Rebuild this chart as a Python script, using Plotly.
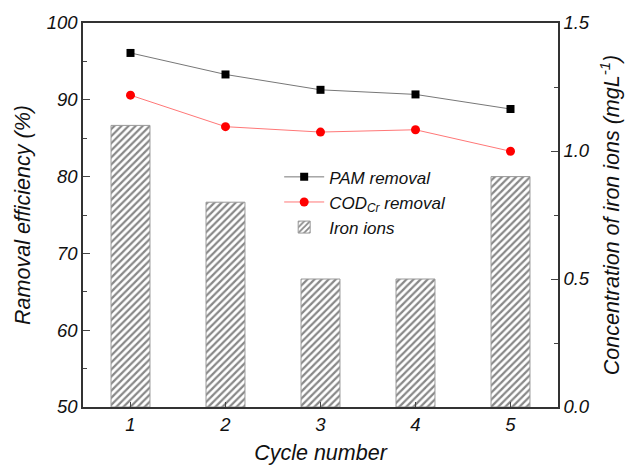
import plotly.graph_objects as go

cycles = [1, 2, 3, 4, 5]
pam_removal = [96.1, 93.3, 91.3, 90.7, 88.8]
cod_removal = [90.6, 86.5, 85.8, 86.1, 83.3]
iron_ions = [1.1, 0.8, 0.5, 0.5, 0.9]

font_family = "Liberation Sans, Arial, sans-serif"

fig = go.Figure()

fig.add_trace(go.Scatter(
    x=cycles, y=pam_removal, name="<i>PAM removal</i>", mode="lines+markers",
    line=dict(color="#777777", width=1),
    marker=dict(symbol="square", color="black", size=8),
))
fig.add_trace(go.Scatter(
    x=cycles, y=cod_removal, name="<i>COD<sub>Cr</sub> removal</i>", mode="lines+markers",
    line=dict(color="#ff7777", width=1),
    marker=dict(symbol="circle", color="#ff0000", size=9),
))
fig.add_trace(go.Bar(
    x=cycles, y=iron_ions, yaxis="y2", name="<i>Iron ions</i>",
    width=0.41,
    marker=dict(color="white", line=dict(color="#999999", width=1),
                pattern=dict(shape="/", fgcolor="#111111", bgcolor="white", size=5, solidity=0.45)),
))

fig.update_layout(
    width=633, height=465,
    margin=dict(l=83, r=75, t=23, b=58),
    plot_bgcolor="white", paper_bgcolor="white",
    font=dict(family=font_family, color="#111111"),
    showlegend=True,
    legend=dict(x=0.413, y=0.645, xanchor="left", yanchor="top",
                traceorder="normal", bgcolor="rgba(0,0,0,0)",
                font=dict(size=17, family=font_family), itemwidth=40,
                tracegroupgap=0),
    xaxis=dict(
        range=[0.5, 5.5], tickvals=cycles, ticktext=[f"<i>{c}</i>" for c in cycles],
        showline=True, linecolor="#333333", linewidth=1.5, mirror=True,
        ticks="inside", ticklen=5, showgrid=False, zeroline=False,
        tickfont=dict(size=18.5), ticklabelstandoff=0, automargin=False,
        title=dict(text="<i>Cycle number</i>", font=dict(size=21.5), standoff=18),
    ),
    yaxis=dict(
        range=[50, 100], tickvals=[50, 60, 70, 80, 90, 100],
        ticktext=[f"<i>{v}</i>" for v in [50, 60, 70, 80, 90, 100]],
        showline=True, linecolor="#333333", linewidth=1.5, mirror=False,
        ticks="inside", ticklen=7, showgrid=False, zeroline=False, automargin=False,
        minor=dict(ticks="inside", ticklen=4, dtick=5, tick0=55),
        tickfont=dict(size=18.5),
        title=dict(text="<i>Ramoval efficiency (%)</i>", font=dict(size=21.5), standoff=10),
    ),
    yaxis2=dict(
        range=[0, 1.5], overlaying="y", side="right",
        tickvals=[0, 0.5, 1.0, 1.5], ticktext=["<i>0.0</i>", "<i>0.5</i>", "<i>1.0</i>", "<i>1.5</i>"],
        showline=True, linecolor="#333333", linewidth=1.5, automargin=False,
        ticks="inside", ticklen=7, showgrid=False, zeroline=False,
        minor=dict(ticks="inside", ticklen=4, dtick=0.25, tick0=0.25),
        tickfont=dict(size=18.5),
        title=dict(text="<i>Concentration of iron ions (mgL<sup>-1</sup>)</i>", font=dict(size=21.5), standoff=15),
    ),
)

fig.write_html("out.html")
